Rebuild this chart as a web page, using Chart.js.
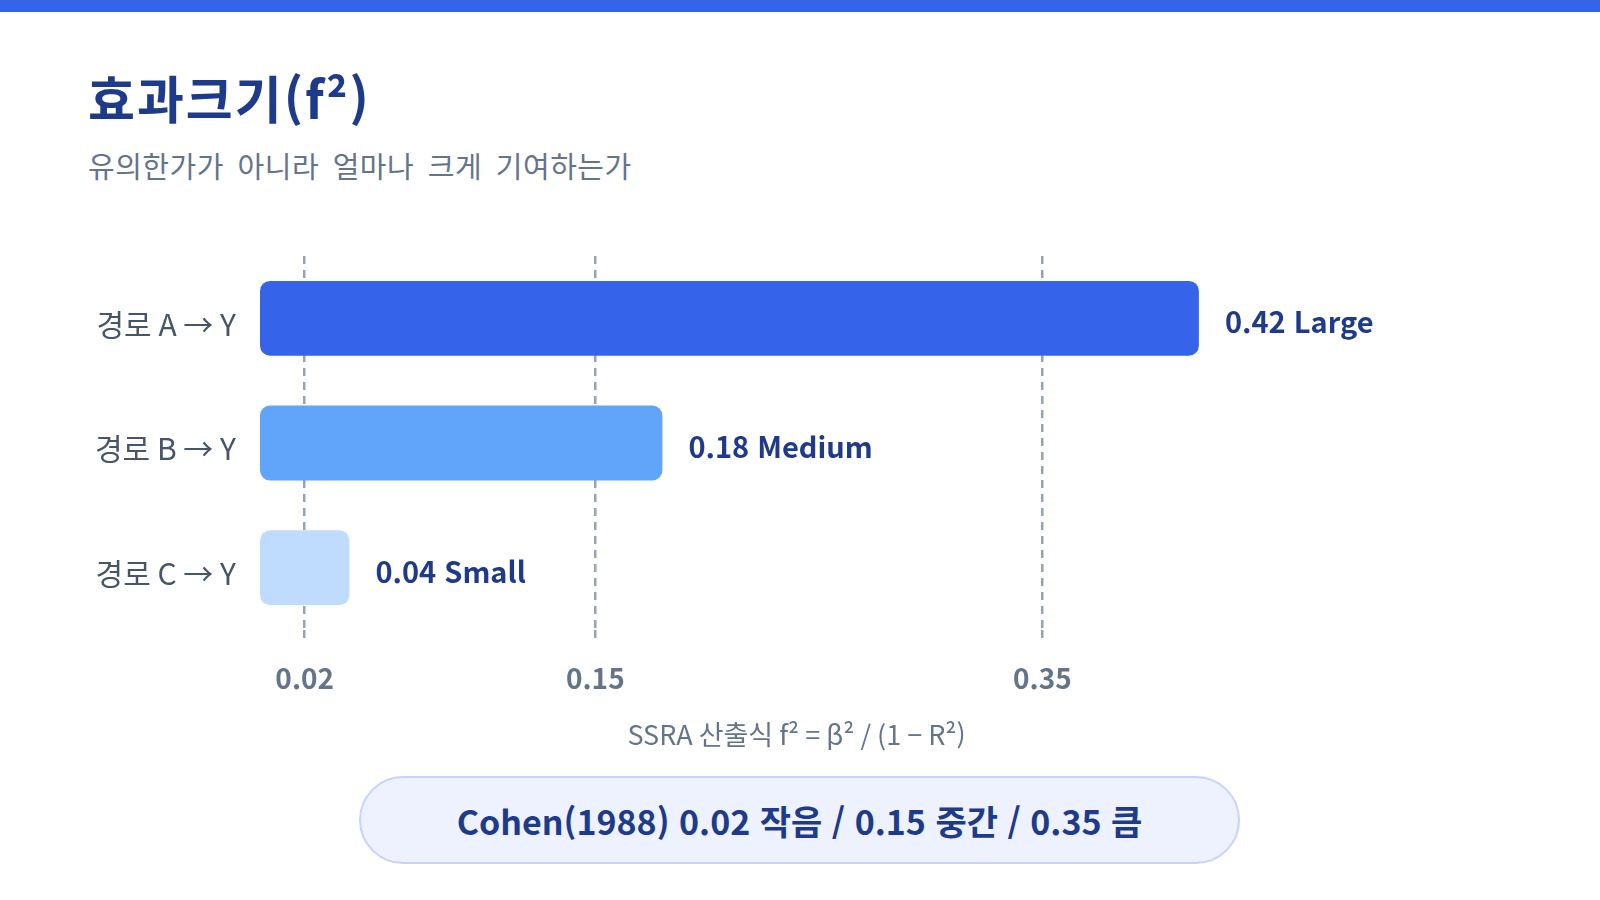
<!DOCTYPE html>
<html lang="ko"><head><meta charset="utf-8">
<script src="https://cdn.jsdelivr.net/npm/chart.js@4.4.1/dist/chart.umd.min.js"></script>
<style>
html,body{margin:0;padding:0;background:#fff;}
body{width:1600px;height:900px;position:relative;overflow:hidden;font-family:"Noto Sans CJK KR","Noto Sans",sans-serif;}
#topbar{position:absolute;left:0;top:0;width:1600px;height:12px;background:#3563e9;}
#title{position:absolute;left:88px;top:72px;font-size:51px;font-weight:700;color:#1e3a8a;line-height:1;margin:0;white-space:nowrap;letter-spacing:2px;}
#subtitle{position:absolute;left:88px;top:151px;font-size:29px;color:#64748b;line-height:1;white-space:nowrap;word-spacing:5px;letter-spacing:0.5px;}
#wrap{position:absolute;left:0;top:200px;width:1600px;height:560px;}
#note{position:absolute;left:359px;top:776px;width:881px;height:88px;box-sizing:border-box;border:2px solid #c7d2fe;background:#eef2ff;border-radius:44px;display:flex;align-items:center;justify-content:center;font-size:34px;font-weight:700;color:#1e3a8a;white-space:nowrap;}
</style></head>
<body>
<div id="topbar"></div>
<div id="title">효과크기(f²)</div>
<div id="subtitle">유의한가가 아니라 얼마나 크게 기여하는가</div>
<div id="wrap"><canvas id="c" width="1600" height="560" style="width:1600px;height:560px"></canvas></div>
<div id="note">Cohen(1988) 0.02 작음 / 0.15 중간 / 0.35 큼</div>
<script>
const categories = ['경로 A → Y', '경로 B → Y', '경로 C → Y'];
const effectSizes = [0.42, 0.18, 0.04];
const sizeLabels = ['Large', 'Medium', 'Small'];
const barColors = ['#3563e9', '#60a5fa', '#bfdbfe'];
const thresholdTicks = [0.02, 0.15, 0.35];
const axisMin = 0;
const axisMax = 0.48;
const axisTitle = 'SSRA 산출식 f² = β² / (1 − R²)';

const FONT = '"Noto Sans CJK KR", "Noto Sans", sans-serif';

const valueLabelPlugin = {
  id: 'valueLabels',
  afterDraw(chart) {
    const ctx = chart.ctx;
    const meta = chart.getDatasetMeta(0);
    ctx.save();
    ctx.font = '700 29px ' + FONT;
    ctx.fillStyle = '#1e3a8a';
    ctx.textBaseline = 'middle';
    ctx.textAlign = 'left';
    meta.data.forEach((bar, i) => {
      ctx.fillText(effectSizes[i].toFixed(2) + ' ' + sizeLabels[i], bar.x + 26, bar.y + 4);
    });
    ctx.restore();
  }
};

new Chart(document.getElementById('c'), {
  type: 'bar',
  data: {
    labels: categories,
    datasets: [{
      data: effectSizes,
      backgroundColor: barColors,
      borderRadius: 10,
      borderSkipped: false,
      barPercentage: 0.6,
      categoryPercentage: 1.0
    }]
  },
  options: {
    indexAxis: 'y',
    responsive: false,
    animation: false,
    layout: { padding: { top: 56, right: 267, left: 0, bottom: 0 } },
    plugins: { legend: { display: false }, tooltip: { enabled: false } },
    scales: {
      x: {
        min: axisMin,
        max: axisMax,
        z: 1,
        afterBuildTicks: s => { s.ticks = thresholdTicks.map(v => ({ value: v })); },
        afterFit: s => { s.height = 130; },
        ticks: {
          color: '#64748b',
          font: { family: FONT, size: 28, weight: '700' },
          padding: 20,
          callback: v => Number(v).toFixed(2)
        },
        grid: {
          color: '#94a3b8',
          lineWidth: 2.5,
          drawTicks: true,
          tickLength: 12,
          tickColor: '#94a3b8',
          tickWidth: 2.5,
          tickBorderDash: [8, 6]
        },
        border: { display: false, dash: [8, 6] },
        title: {
          display: true,
          text: axisTitle,
          color: '#64748b',
          font: { family: FONT, size: 27, weight: '400' },
          padding: { top: 0, bottom: 9 }
        }
      },
      y: {
        afterFit: s => { s.width = 260; },
        grid: { display: false, drawTicks: false },
        border: { display: false },
        ticks: {
          color: '#475569',
          font: { family: FONT, size: 30, weight: '400' },
          padding: 24,
          labelOffset: 6
        }
      }
    }
  },
  plugins: [valueLabelPlugin]
});
</script>
</body></html>
